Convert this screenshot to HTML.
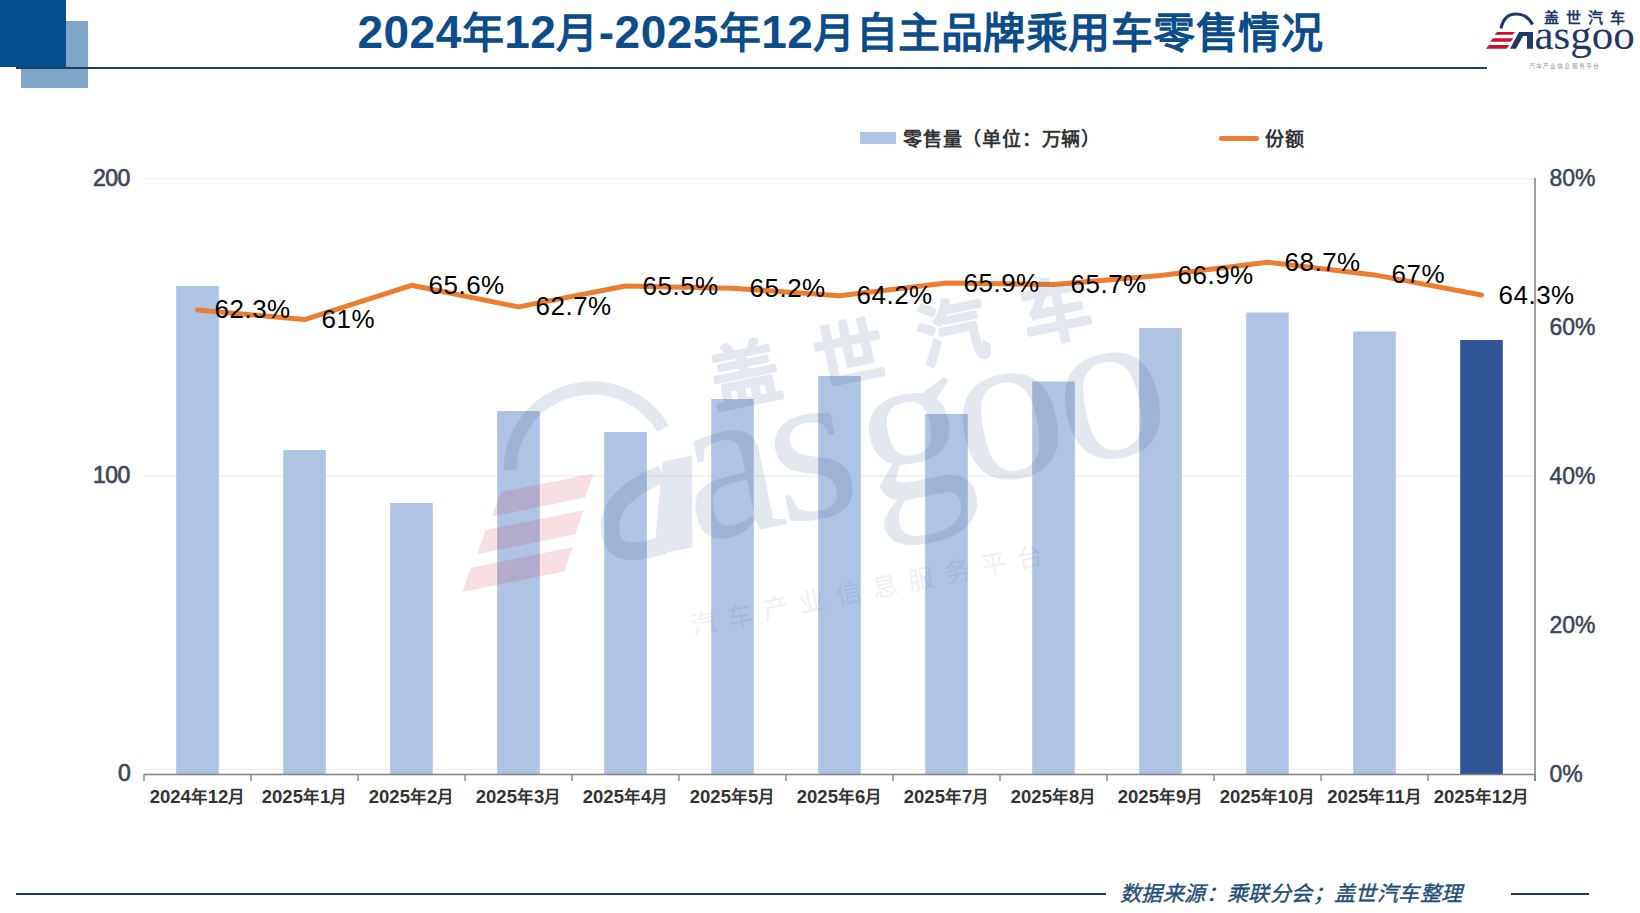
<!DOCTYPE html>
<html lang="zh-CN"><head><meta charset="utf-8">
<style>
html,body{margin:0;padding:0;background:#fff;}
body{width:1640px;height:913px;position:relative;overflow:hidden;font-family:"Liberation Sans",sans-serif;}
.abs{position:absolute;}
.title .d{font-size:46px;}
.title{position:absolute;left:357.5px;top:4px;font-size:42px;letter-spacing:0.47px;color:#0b4c8a;font-weight:bold;white-space:nowrap;line-height:56px;}
.dl{position:absolute;font-size:26px;letter-spacing:0.5px;color:#000;line-height:30px;white-space:nowrap;}
.cat .d{font-size:18.5px;}
.cat{position:absolute;top:785px;width:107px;text-align:center;font-size:16.5px;font-weight:bold;color:#333;line-height:24px;white-space:nowrap;}
.yl{position:absolute;font-size:23px;letter-spacing:-0.5px;color:#3f4656;-webkit-text-stroke:0.7px #3f4656;line-height:26px;white-space:nowrap;}
.yr{position:absolute;left:1549.5px;font-size:23px;color:#3d4556;-webkit-text-stroke:0.5px #3d4556;line-height:26px;white-space:nowrap;}
.leg{position:absolute;font-size:19px;letter-spacing:0.8px;font-weight:bold;color:#333;line-height:24px;white-space:nowrap;}
.foot{position:absolute;left:1120px;top:881px;font-size:21px;letter-spacing:0.4px;font-style:italic;color:#1f4e79;-webkit-text-stroke:0.4px #1f4e79;line-height:26px;white-space:nowrap;}
</style></head><body>
<div class="abs" style="left:21px;top:21px;width:67px;height:67px;background:#7ea6c8;"></div>
<div class="abs" style="left:0;top:0;width:66px;height:67px;background:#034f8f;"></div>
<div class="abs" style="left:16px;top:67px;width:1471px;height:2px;background:#1f3f60;"></div>
<div class="title"><span class="d">2024</span>年<span class="d">12</span>月<span class="d">-2025</span>年<span class="d">12</span>月自主品牌乘用车零售情况</div>
<svg class="abs" style="left:0;top:0" width="1640" height="913" viewBox="0 0 1640 913">
<line x1="144" y1="179" x2="1535" y2="179" stroke="#f2f2f2" stroke-width="1.5"/>
<line x1="144" y1="183.5" x2="1535" y2="183.5" stroke="#f7f7f7" stroke-width="1.2"/>
<line x1="144" y1="476" x2="1535" y2="476" stroke="#f0f0f0" stroke-width="1.5"/>
<line x1="144" y1="769.5" x2="1535" y2="769.5" stroke="#ececec" stroke-width="1.2"/>
<rect x="176.2" y="286" width="42.6" height="488" fill="#afc3e5"/>
<rect x="283.2" y="450" width="42.6" height="324" fill="#afc3e5"/>
<rect x="390.2" y="503" width="42.6" height="271" fill="#afc3e5"/>
<rect x="497.2" y="411" width="42.6" height="363" fill="#afc3e5"/>
<rect x="604.2" y="432" width="42.6" height="342" fill="#afc3e5"/>
<rect x="711.2" y="399" width="42.6" height="375" fill="#afc3e5"/>
<rect x="818.2" y="376" width="42.6" height="398" fill="#afc3e5"/>
<rect x="925.2" y="414" width="42.6" height="360" fill="#afc3e5"/>
<rect x="1032.2" y="381.5" width="42.6" height="392.5" fill="#afc3e5"/>
<rect x="1139.2" y="328" width="42.6" height="446" fill="#afc3e5"/>
<rect x="1246.2" y="312.5" width="42.6" height="461.5" fill="#afc3e5"/>
<rect x="1353.2" y="331.5" width="42.6" height="442.5" fill="#afc3e5"/>
<rect x="1460.2" y="340" width="42.6" height="434" fill="#2f5597"/>
<line x1="144" y1="774.5" x2="1536" y2="774.5" stroke="#7f7f7f" stroke-width="1.7"/>
<line x1="144" y1="774" x2="144" y2="781" stroke="#8c8c8c" stroke-width="1.5"/>
<line x1="251" y1="774" x2="251" y2="781" stroke="#8c8c8c" stroke-width="1.5"/>
<line x1="358" y1="774" x2="358" y2="781" stroke="#8c8c8c" stroke-width="1.5"/>
<line x1="465" y1="774" x2="465" y2="781" stroke="#8c8c8c" stroke-width="1.5"/>
<line x1="572" y1="774" x2="572" y2="781" stroke="#8c8c8c" stroke-width="1.5"/>
<line x1="679" y1="774" x2="679" y2="781" stroke="#8c8c8c" stroke-width="1.5"/>
<line x1="786" y1="774" x2="786" y2="781" stroke="#8c8c8c" stroke-width="1.5"/>
<line x1="893" y1="774" x2="893" y2="781" stroke="#8c8c8c" stroke-width="1.5"/>
<line x1="1000" y1="774" x2="1000" y2="781" stroke="#8c8c8c" stroke-width="1.5"/>
<line x1="1107" y1="774" x2="1107" y2="781" stroke="#8c8c8c" stroke-width="1.5"/>
<line x1="1214" y1="774" x2="1214" y2="781" stroke="#8c8c8c" stroke-width="1.5"/>
<line x1="1321" y1="774" x2="1321" y2="781" stroke="#8c8c8c" stroke-width="1.5"/>
<line x1="1428" y1="774" x2="1428" y2="781" stroke="#8c8c8c" stroke-width="1.5"/>
<line x1="1535" y1="774" x2="1535" y2="781" stroke="#8c8c8c" stroke-width="1.5"/>
<line x1="1535" y1="178" x2="1535" y2="781" stroke="#7f7f7f" stroke-width="1.5"/>
<polyline points="197.5,309.9 304.5,319.6 411.5,285.3 518.5,306.9 625.5,286.0 732.5,288.3 839.5,295.7 946.5,283.0 1053.5,284.5 1160.5,275.6 1267.5,262.2 1374.5,274.9 1481.5,295.0" fill="none" stroke="#ed7d31" stroke-width="5" stroke-linejoin="round" stroke-linecap="round"/>
<g transform="translate(800,460) rotate(-11.5)">
<g fill="#27507f" opacity="0.125">
<text x="-72" y="-69" font-family="Liberation Sans" font-weight="bold" font-size="70" letter-spacing="36" stroke="#27507f" stroke-width="2" stroke-linejoin="round">盖世汽车</text>
<path d="M-286,-48 A82,82 0 0 1 -128,-58" fill="none" stroke="#27507f" stroke-width="13"/>
<text font-family="Liberation Serif" font-size="220" x="-120 -31 60 158 262" y="60">asgoo</text>
<path d="M-135,-26 L-105,-26 L-123,64 L-162,64 Z"/>
<path d="M-138,-14 Q-205,0 -200,40 Q-197,62 -150,56" fill="none" stroke="#27507f" stroke-width="18"/>
</g>
<g fill="#c8102e" opacity="0.13">
<polygon points="-300,-28 -205,-28 -218,-6 -313,-6"/>
<polygon points="-322,6 -222,6 -235,28 -335,28"/>
<polygon points="-344,40 -240,40 -253,62 -357,62"/>
</g>
<text x="-140" y="150" font-family="Liberation Sans" font-size="26" letter-spacing="11" fill="#1f3864" opacity="0.07">汽车产业信息服务平台</text>
</g>

</svg>
<div class="dl" style="left:214.5px;top:294.4px">62.3%</div>
<div class="dl" style="left:321.5px;top:304.1px">61%</div>
<div class="dl" style="left:428.5px;top:269.8px">65.6%</div>
<div class="dl" style="left:535.5px;top:291.4px">62.7%</div>
<div class="dl" style="left:642.5px;top:270.5px">65.5%</div>
<div class="dl" style="left:749.5px;top:272.8px">65.2%</div>
<div class="dl" style="left:856.5px;top:280.2px">64.2%</div>
<div class="dl" style="left:963.5px;top:267.5px">65.9%</div>
<div class="dl" style="left:1070.5px;top:269.0px">65.7%</div>
<div class="dl" style="left:1177.5px;top:260.1px">66.9%</div>
<div class="dl" style="left:1284.5px;top:246.7px">68.7%</div>
<div class="dl" style="left:1391.5px;top:259.4px">67%</div>
<div class="dl" style="left:1498.5px;top:279.5px">64.3%</div>
<div class="cat" style="left:144.0px"><span class="d">2024</span>年<span class="d">12</span>月</div>
<div class="cat" style="left:251.0px"><span class="d">2025</span>年<span class="d">1</span>月</div>
<div class="cat" style="left:358.0px"><span class="d">2025</span>年<span class="d">2</span>月</div>
<div class="cat" style="left:465.0px"><span class="d">2025</span>年<span class="d">3</span>月</div>
<div class="cat" style="left:572.0px"><span class="d">2025</span>年<span class="d">4</span>月</div>
<div class="cat" style="left:679.0px"><span class="d">2025</span>年<span class="d">5</span>月</div>
<div class="cat" style="left:786.0px"><span class="d">2025</span>年<span class="d">6</span>月</div>
<div class="cat" style="left:893.0px"><span class="d">2025</span>年<span class="d">7</span>月</div>
<div class="cat" style="left:1000.0px"><span class="d">2025</span>年<span class="d">8</span>月</div>
<div class="cat" style="left:1107.0px"><span class="d">2025</span>年<span class="d">9</span>月</div>
<div class="cat" style="left:1214.0px"><span class="d">2025</span>年<span class="d">10</span>月</div>
<div class="cat" style="left:1321.0px"><span class="d">2025</span>年<span class="d">11</span>月</div>
<div class="cat" style="left:1428.0px"><span class="d">2025</span>年<span class="d">12</span>月</div>
<svg class="abs" style="left:1480px;top:0" width="160" height="75" viewBox="1480 0 160 75">
<text x="1543.5" y="22.5" font-family="Liberation Sans" font-weight="bold" font-size="15" letter-spacing="7.2" fill="#1f3864">盖世汽车</text>
<path d="M1501,28.5 Q1504,14 1516,14 Q1527,14 1532.5,24.5" fill="none" stroke="#1f3864" stroke-width="3.2"/>
<polygon points="1497,32 1515,32 1512.5,34.8 1494.5,34.8" fill="#c8102e"/>
<polygon points="1493,38.2 1513.5,38.2 1510.5,41.7 1490,41.7" fill="#c8102e"/>
<polygon points="1489,45 1509.5,45 1506.5,48.8 1486,48.8" fill="#c8102e"/>
<path d="M1519,32 L1533,32 L1533,48.8 L1527,48.8 L1527,36 L1523,36 L1516,48.8 L1510,48.8 Z" fill="#1f3864"/>
<text x="1534.5" y="49" font-family="Liberation Serif" font-size="43" fill="#1f3864">asgoo</text>
<text x="1529" y="68" font-family="Liberation Sans" font-size="6" letter-spacing="1.1" fill="#9a9a9a">汽车产业信息服务平台</text>
</svg>

<div class="yl" style="left:93px;top:164.5px">200</div>
<div class="yl" style="left:93px;top:462px">100</div>
<div class="yl" style="left:118px;top:760px">0</div>
<div class="yr" style="top:165px">80%</div>
<div class="yr" style="top:314px">60%</div>
<div class="yr" style="top:463px">40%</div>
<div class="yr" style="top:612px">20%</div>
<div class="yr" style="top:761px">0%</div>
<div class="abs" style="left:860px;top:132px;width:36px;height:12px;background:#afc3e5;"></div>
<div class="leg" style="left:903px;top:128px">零售量（单位：万辆）</div>
<div class="abs" style="left:1219px;top:136px;width:40px;height:5px;border-radius:3px;background:#ed7d31;"></div>
<div class="leg" style="left:1265px;top:128px">份额</div>
<div class="abs" style="left:16px;top:893px;width:1090px;height:2px;background:#1f3864;"></div>
<div class="foot">数据来源：乘联分会；盖世汽车整理</div>
<div class="abs" style="left:1511px;top:893px;width:78px;height:2px;background:#1f3864;"></div>
</body></html>
